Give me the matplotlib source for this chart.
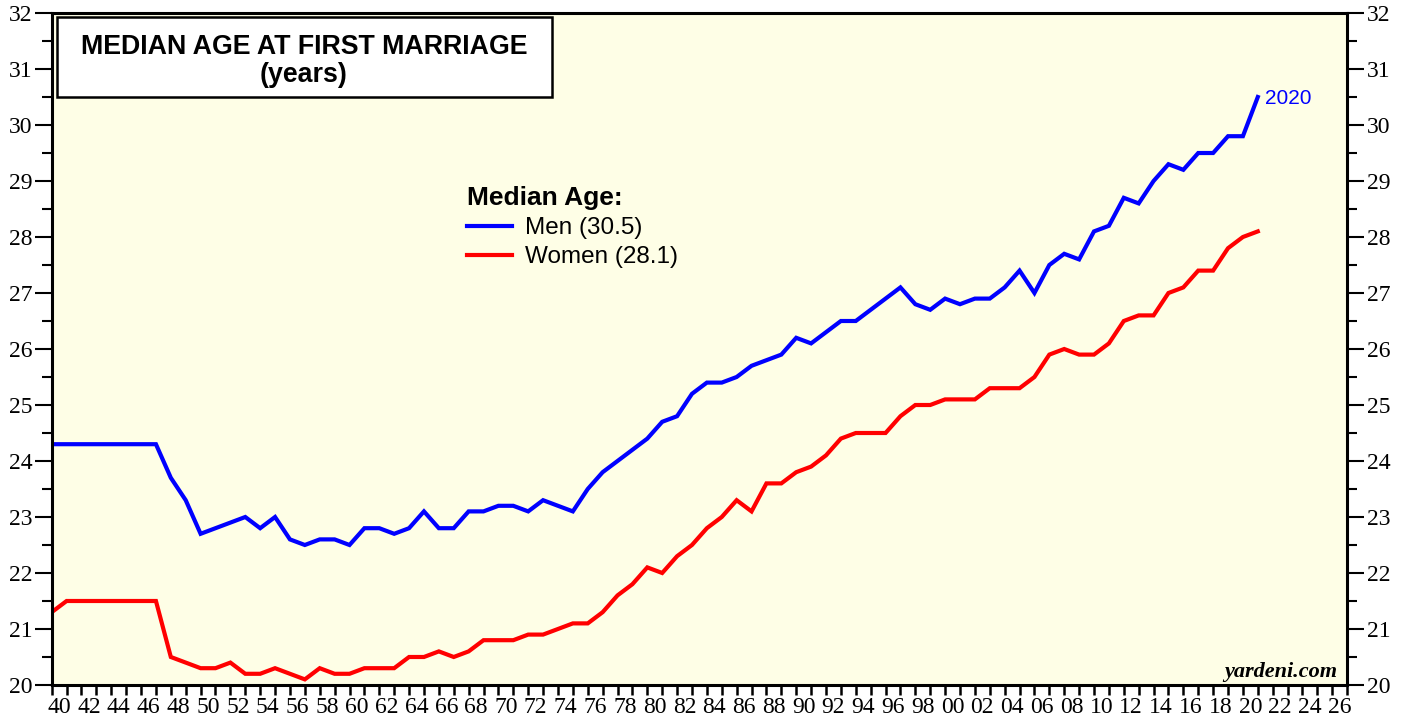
import numpy as np
import matplotlib
matplotlib.use('Agg')
import matplotlib.pyplot as plt
from matplotlib.patches import Rectangle
from matplotlib.ticker import MultipleLocator, FixedLocator, FixedFormatter

# annual data, each value plotted at the end of its year
years = list(range(1939, 2021))
men = [24.3, 24.3, 24.3, 24.3, 24.3, 24.3, 24.3, 24.3,
       23.7, 23.3, 22.7, 22.8, 22.9, 23.0, 22.8, 23.0, 22.6, 22.5, 22.6, 22.6,
       22.5, 22.8, 22.8, 22.7, 22.8, 23.1, 22.8, 22.8, 23.1, 23.1, 23.2, 23.2,
       23.1, 23.3, 23.2, 23.1, 23.5, 23.8, 24.0, 24.2, 24.4, 24.7, 24.8, 25.2,
       25.4, 25.4, 25.5, 25.7, 25.8, 25.9, 26.2, 26.1, 26.3, 26.5, 26.5, 26.7,
       26.9, 27.1, 26.8, 26.7, 26.9, 26.8, 26.9, 26.9, 27.1, 27.4, 27.0, 27.5,
       27.7, 27.6, 28.1, 28.2, 28.7, 28.6, 29.0, 29.3, 29.2, 29.5, 29.5, 29.8,
       29.8, 30.5]
women = [21.3, 21.5, 21.5, 21.5, 21.5, 21.5, 21.5, 21.5,
         20.5, 20.4, 20.3, 20.3, 20.4, 20.2, 20.2, 20.3, 20.2, 20.1, 20.3, 20.2,
         20.2, 20.3, 20.3, 20.3, 20.5, 20.5, 20.6, 20.5, 20.6, 20.8, 20.8, 20.8,
         20.9, 20.9, 21.0, 21.1, 21.1, 21.3, 21.6, 21.8, 22.1, 22.0, 22.3, 22.5,
         22.8, 23.0, 23.3, 23.1, 23.6, 23.6, 23.8, 23.9, 24.1, 24.4, 24.5, 24.5,
         24.5, 24.8, 25.0, 25.0, 25.1, 25.1, 25.1, 25.3, 25.3, 25.3, 25.5, 25.9,
         26.0, 25.9, 25.9, 26.1, 26.5, 26.6, 26.6, 27.0, 27.1, 27.4, 27.4, 27.8,
         28.0, 28.1]
label_years = list(range(1940, 2027, 2))

x = np.array(years) + 1.0

fig = plt.figure(figsize=(14.07, 7.19), dpi=100)
ax = fig.add_axes([0.03675, 0.0473, 0.9207, 0.9346])
ax.set_facecolor('#FEFEE6')

ax.plot(x, men, color='#0000FF', lw=3.0, solid_joinstyle='miter',
        label=f'Men ({men[-1]})')
ax.plot(x, women, color='#FF0000', lw=3.0, solid_joinstyle='miter',
        label=f'Women ({women[-1]})')

ax.set_xlim(1940, 2027)
ax.set_ylim(20, 32)

serif = 'Liberation Serif'
# x axis: tick at each year boundary, label centred inside even years
ax.xaxis.set_major_locator(MultipleLocator(1))
ax.xaxis.set_major_formatter(FixedFormatter([]))
ax.xaxis.set_minor_locator(FixedLocator([y + 0.5 for y in label_years]))
ax.xaxis.set_minor_formatter(FixedFormatter([f'{y % 100:02d}' for y in label_years]))
ax.tick_params(axis='x', which='major', direction='out', length=7, width=1.8)
ax.tick_params(axis='x', which='minor', length=0, pad=9, labelsize=17)

ax.yaxis.set_major_locator(MultipleLocator(1))
ax.yaxis.set_minor_locator(MultipleLocator(0.5))
ax.tick_params(axis='y', which='major', direction='out', length=12, width=1.5,
               left=True, right=True, labelleft=True, labelright=True,
               labelsize=17, pad=2)
ax.tick_params(axis='y', which='minor', direction='out', length=7, width=1.5,
               left=True, right=True)
for lab in ax.get_xticklabels(minor=True):
    lab.set_fontfamily(serif)
for t in ax.yaxis.get_major_ticks():
    t.label1.set_fontfamily(serif)
    t.label2.set_fontfamily(serif)

for s in ax.spines.values():
    s.set_linewidth(2.2)

# title box
ax.add_patch(Rectangle((0.0041, 0.875), 0.382, 0.119, transform=ax.transAxes,
                       facecolor='white', edgecolor='black', lw=1.8, zorder=5))
ax.text(0.1947, 0.950, 'MEDIAN AGE AT FIRST MARRIAGE', transform=ax.transAxes,
        ha='center', va='center', fontsize=19.3, fontweight='bold',
        family='Liberation Sans', zorder=6)
ax.text(0.1947, 0.908, '(years)', transform=ax.transAxes,
        ha='center', va='center', fontsize=19.3, fontweight='bold',
        family='Liberation Sans', zorder=6)

leg = ax.legend(loc='upper left', bbox_to_anchor=(0.3205, 0.743), frameon=False,
                title='Median Age:', alignment='left',
                prop={'family': 'Liberation Sans', 'size': 17.5},
                handlelength=1.85, handletextpad=0.55, labelspacing=0.3,
                borderpad=0, borderaxespad=0)
leg.get_title().set_fontweight('bold')
leg.get_title().set_fontsize(19)
leg.get_title().set_family('Liberation Sans')

ax.annotate(str(years[-1]), xy=(x[-1], men[-1]), xytext=(5, -1),
            textcoords='offset points', ha='left', va='center',
            color='#0000FF', fontsize=15, family='Liberation Sans')

ax.text(0.992, 0.012, 'yardeni.com', transform=ax.transAxes, ha='right',
        va='baseline', fontsize=16, fontweight='bold', fontstyle='italic',
        family=serif)

fig.savefig('out.png', dpi=100)
